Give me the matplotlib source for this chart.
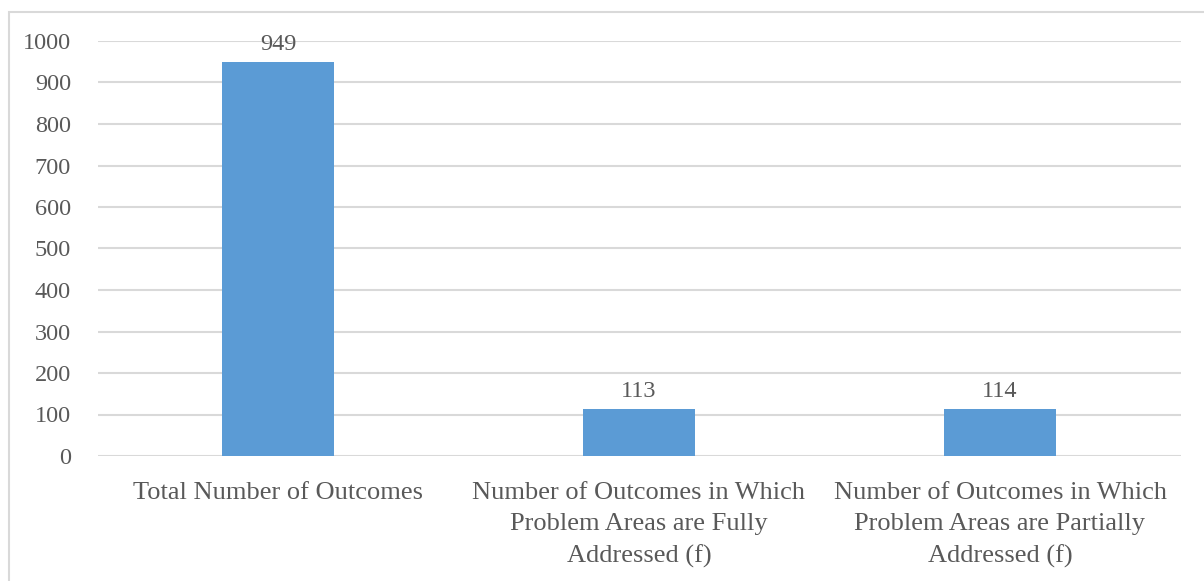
import matplotlib
matplotlib.use("Agg")
import matplotlib.pyplot as plt
from matplotlib.patches import Rectangle

categories = ["Total Number of Outcomes",
              "Number of Outcomes in Which\nProblem Areas are Fully\nAddressed (f)",
              "Number of Outcomes in Which\nProblem Areas are Partially\nAddressed (f)"]
values = [949, 113, 114]
yticks = [0, 100, 200, 300, 400, 500, 600, 700, 800, 900, 1000]

W, H = 1204, 581
text_color = "#595959"
grid_color = "#d9d9d9"
bar_color = "#5b9bd5"

plt.rcParams["font.family"] = ["Liberation Serif", "DejaVu Serif"]

fig = plt.figure(figsize=(W / 100, H / 100), dpi=100)
ax = fig.add_axes([97.5 / W, 125 / H, (1180.5 - 97.5) / W, (456 - 41) / H])

x = range(len(categories))
bars = ax.bar(x, values, width=0.313, color=bar_color, zorder=3)
for b, v in zip(bars, values):
    ax.annotate(str(v), (b.get_x() + b.get_width() / 2, v), xytext=(0, 5),
                textcoords="offset points", ha="center", va="bottom",
                fontsize=17.5, color=text_color)

ax.set_xlim(-0.5, len(categories) - 0.5)
ax.set_ylim(0, 1000)
ax.set_yticks(yticks)
ax.set_xticks(list(x))
ax.set_xticklabels(categories, fontsize=19, color=text_color, linespacing=1.52)
ax.tick_params(axis="y", length=0, pad=19, labelsize=17.5, labelcolor=text_color)
ax.tick_params(axis="x", length=0, pad=19)
ax.grid(axis="y", color=grid_color, linewidth=1.5, zorder=0)
for s in ax.spines.values():
    s.set_visible(False)

# chart border
fig.patches.append(Rectangle((8.5 / W, -0.1), 1.2, (H - 12.5) / H + 0.1,
                             transform=fig.transFigure, fill=False,
                             edgecolor=grid_color, linewidth=1.5, clip_on=False))

fig.savefig("out.png", dpi=100)
